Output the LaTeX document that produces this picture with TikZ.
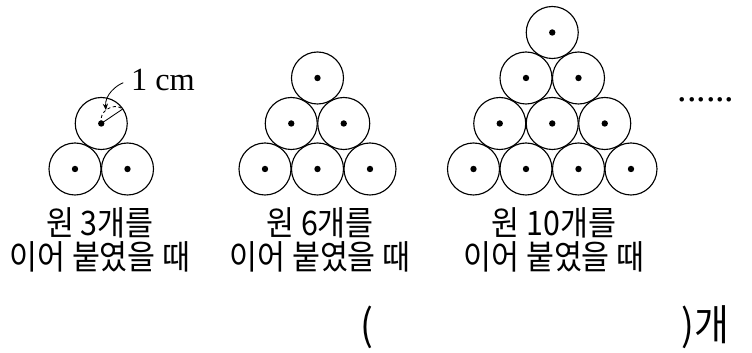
\documentclass[tikz,border=0pt]{standalone}
\usepackage{fontspec}
\setmainfont{Liberation Serif}
\newfontfamily\kr[FakeStretch=0.9]{Noto Sans CJK KR}
\usetikzlibrary{arrows.meta,positioning}

\begin{document}
\begin{tikzpicture}[
    x=0.025cm, y=0.025cm,
    coin/.style={draw=black, circle, line width=0.8pt, minimum size=1.3cm, inner sep=0pt, outer sep=0pt},
    krtext/.style={align=center, font=\kr\fontsize{24}{24.2}\selectfont, inner sep=0pt},
    pointer/.style={-{Stealth[length=1.6mm, width=1.3mm]}, line width=0.6pt}
  ]
    \useasboundingbox (0,0) rectangle (752,353);

    % triangles of circles
    \foreach \g/\n/\xs in {1/2/75, 2/3/265, 3/4/473.5}{
      \foreach \r in {1,...,\n}{
        \pgfmathtruncatemacro{\m}{\n-\r+1}
        \foreach \i in {1,...,\m}{
          \node[coin] (c\g-\r-\i) at ({\xs+(\r-1)*26.25+(\i-1)*52.5},{184+(\r-1)*45.5}) {};
          \fill (c\g-\r-\i.center) circle (0.08cm);
        }
      }
    }

    % radius mark
    \node[font=\fontsize{23}{23}\selectfont, inner sep=0pt] (cmtag) at (163,273) {1 cm};
    \draw[line width=0.6pt] (c1-2-1.center) -- (c1-2-1.34);
    \draw[line width=0.6pt, dash pattern=on 2.2pt off 1.8pt] (c1-2-1.center) to[bend left=70, looseness=1.2] coordinate[pos=0.45] (rtop) (c1-2-1.34);
    \draw[pointer, shorten <=0.2cm] (cmtag.west) to[out=200, in=95] (rtop);

    \node[font=\fontsize{27}{27}\selectfont, inner sep=0pt, anchor=base] (more) at (706,251.5) {......};

    % captions
    \node[krtext] (lab1) at (100,113) {원 3개를\\이어 붙였을 때};
    \node[krtext] (lab2) at (320,113) {원 6개를\\이어 붙였을 때};
    \node[krtext] (lab3) at (554,113) {원 10개를\\이어 붙였을 때};

    % answer blank
    \node[krtext, font=\kr\fontsize{30}{30}\selectfont, anchor=base] (open) at (367,12) {(};
    \node[krtext, font=\kr\fontsize{30}{30}\selectfont, anchor=base west] (close) at (681,12) {)개};
  \end{tikzpicture}
\end{document}
